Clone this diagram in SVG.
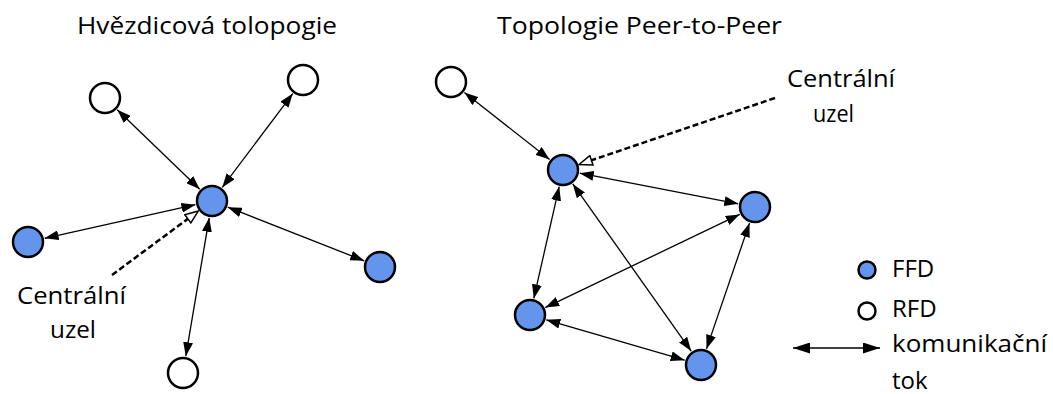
<svg xmlns="http://www.w3.org/2000/svg" width="1053" height="394" viewBox="0 0 1053 394">
<style>
text{font-family:"Open Sans","Liberation Sans",sans-serif;font-size:24px;fill:#000}
.ffd{fill:#6495ED;stroke:#000;stroke-width:2.5}
.rfd{fill:#fff;stroke:#000;stroke-width:2.5}
.c{stroke:#000;stroke-width:1.3;fill:none;marker-start:url(#ah);marker-end:url(#ah)}
.l{stroke:#000;stroke-width:1.5;fill:none;marker-start:url(#ahl);marker-end:url(#ahl)}
.d{stroke:#000;stroke-width:2.5;fill:none;stroke-dasharray:6 3;marker-end:url(#oh)}
</style>
<defs>
<marker id="ah" viewBox="0 0 14 10" refX="14" refY="5" markerWidth="14" markerHeight="10" markerUnits="userSpaceOnUse" orient="auto-start-reverse"><path d="M0,0 L14,5 L0,10 z" fill="#000"/></marker>
<marker id="ahl" viewBox="0 0 17 11" refX="17" refY="5.5" markerWidth="17" markerHeight="11" markerUnits="userSpaceOnUse" orient="auto-start-reverse"><path d="M0,0 L17,5.5 L0,11 z" fill="#000"/></marker>
<marker id="oh" viewBox="0 0 15 12" refX="14" refY="6" markerWidth="15" markerHeight="12" markerUnits="userSpaceOnUse" orient="auto"><path d="M1,1 L14,6 L1,11 z" fill="#fff" stroke="#000" stroke-width="1.5"/></marker>
</defs>
<rect width="1053" height="394" fill="#fff"/>
<text x="77" y="34" textLength="260" lengthAdjust="spacingAndGlyphs">Hvězdicová tolopogie</text>
<text x="497" y="34" textLength="285" lengthAdjust="spacingAndGlyphs">Topologie Peer-to-Peer</text>
<g id="connectors">
<line class="c" x1="199.75" y1="189.2" x2="117.25" y2="109.8"/>
<line class="c" x1="222.2" y1="187.4" x2="292.8" y2="93.6"/>
<line class="c" x1="195.4" y1="204.7" x2="44.6" y2="238.3"/>
<line class="c" x1="227.8" y1="207.2" x2="364.2" y2="260.8"/>
<line class="c" x1="209.2" y1="217.8" x2="185.8" y2="356.2"/>
<line class="d" x1="112" y1="275" x2="198.3" y2="211.1"/>
<line class="c" x1="464.4" y1="92.5" x2="549.6" y2="159.5"/>
<line class="c" x1="579.7" y1="173.2" x2="738.3" y2="203.8"/>
<line class="c" x1="559.2" y1="186.6" x2="533.8" y2="298.4"/>
<line class="c" x1="572.8" y1="183.9" x2="691.2" y2="351.1"/>
<line class="c" x1="739.7" y1="214.4" x2="545.3" y2="307.6"/>
<line class="c" x1="749.5" y1="223.1" x2="706.5" y2="348.9"/>
<line class="c" x1="546.3" y1="319.8" x2="684.7" y2="360.2"/>
<line class="d" x1="775" y1="98" x2="579.1" y2="164.5"/>
<line class="l" x1="793" y1="348" x2="880" y2="348"/>
</g>
<g id="star-center"><circle class="ffd" cx="212" cy="201" r="15"/></g>
<g id="star-rfd-topleft"><circle class="rfd" cx="105" cy="98" r="15"/></g>
<g id="star-rfd-topright"><circle class="rfd" cx="303" cy="80" r="15"/></g>
<g id="star-ffd-left"><circle class="ffd" cx="28" cy="242" r="15"/></g>
<g id="star-ffd-right"><circle class="ffd" cx="380" cy="267" r="15"/></g>
<g id="star-rfd-bottom"><circle class="rfd" cx="183" cy="373" r="15"/></g>
<g id="star-label"><text x="17" y="304" textLength="109" lengthAdjust="spacingAndGlyphs">Centrální</text><text x="50" y="338" textLength="46" lengthAdjust="spacingAndGlyphs">uzel</text></g>
<g id="p2p-rfd"><circle class="rfd" cx="451" cy="82" r="15"/></g>
<g id="p2p-center"><circle class="ffd" cx="563" cy="170" r="15"/></g>
<g id="p2p-right"><circle class="ffd" cx="755" cy="207" r="15"/></g>
<g id="p2p-left"><circle class="ffd" cx="530" cy="315" r="15"/></g>
<g id="p2p-bottom"><circle class="ffd" cx="701" cy="365" r="15"/></g>
<g id="p2p-label"><text x="787" y="87" textLength="108" lengthAdjust="spacingAndGlyphs">Centrální</text><text x="813" y="122" textLength="41" lengthAdjust="spacingAndGlyphs">uzel</text></g>
<g id="legend">
<circle class="ffd" cx="867" cy="270" r="8.5"/>
<text x="892" y="277">FFD</text>
<circle class="rfd" cx="867" cy="311" r="8.5"/>
<text x="892" y="317">RFD</text>
<text x="892" y="352" textLength="155" lengthAdjust="spacingAndGlyphs">komunikační</text>
<text x="892" y="389">tok</text>
</g>
</svg>
